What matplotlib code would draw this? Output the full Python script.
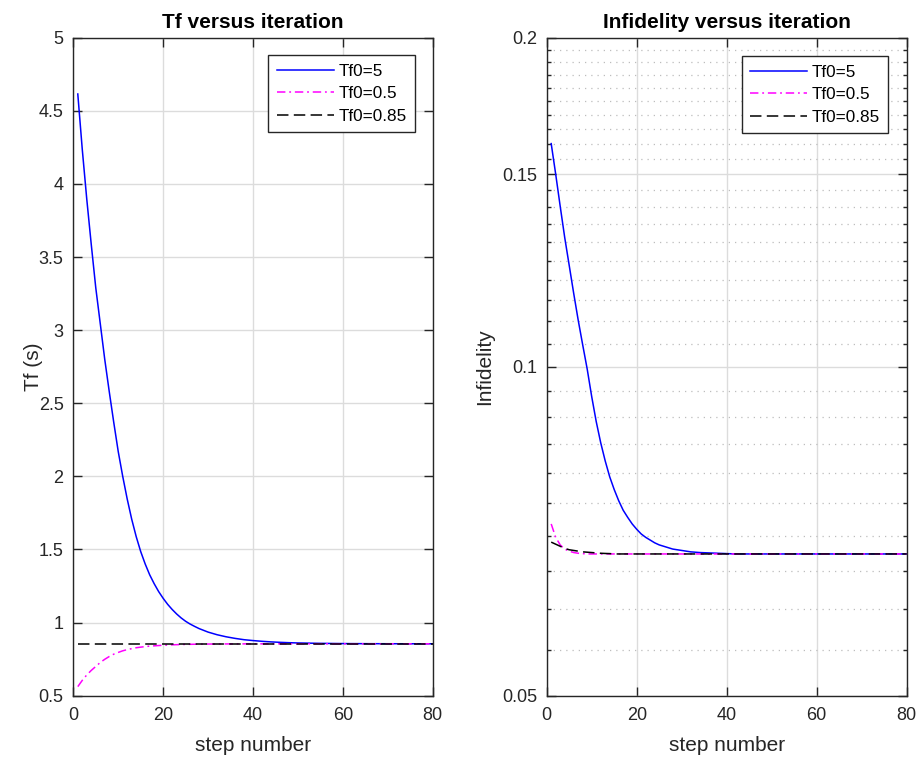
import matplotlib
matplotlib.use("Agg")
import matplotlib.pyplot as plt
from matplotlib.ticker import FixedLocator, FixedFormatter, NullFormatter

# ---------------- data ----------------
steps = [1, 2, 3, 4, 5, 6, 7, 8, 9, 10, 11, 12, 13, 14, 15, 16, 17, 18, 19, 20,
         21, 22, 23, 24, 25, 26, 27, 28, 29, 30, 32, 34, 36, 38, 40, 42, 44, 46,
         48, 50, 55, 60, 65, 70, 75, 80]

tf_5 = [4.615, 4.235, 3.895, 3.585, 3.29, 3.045, 2.80, 2.58, 2.37, 2.17,
        2.00, 1.845, 1.707, 1.588, 1.486, 1.401, 1.327, 1.266, 1.212, 1.166,
        1.125, 1.09, 1.059, 1.032, 1.009, 0.99, 0.974, 0.959, 0.947, 0.935,
        0.917, 0.903, 0.892, 0.883, 0.877, 0.872, 0.868, 0.865, 0.8625, 0.8607,
        0.858, 0.8565, 0.8558, 0.8554, 0.8551, 0.855]
tf_05 = [0.562, 0.605, 0.642, 0.673, 0.70, 0.727, 0.749, 0.768, 0.784, 0.796,
         0.807, 0.815, 0.822, 0.828, 0.832, 0.836, 0.839, 0.841, 0.843, 0.845,
         0.8465, 0.848, 0.849, 0.850, 0.851, 0.8515, 0.852, 0.8525, 0.853, 0.8532,
         0.8537, 0.854, 0.8543, 0.8545, 0.8547, 0.8548, 0.8549, 0.855, 0.855, 0.855,
         0.855, 0.855, 0.855, 0.855, 0.855, 0.855]
tf_085 = [0.855, 0.855, 0.855, 0.855, 0.855, 0.855, 0.855, 0.855, 0.855, 0.855,
          0.855, 0.855, 0.855, 0.855, 0.855, 0.855, 0.855, 0.855, 0.855, 0.855,
          0.855, 0.855, 0.855, 0.855, 0.855, 0.855, 0.855, 0.855, 0.855, 0.855,
          0.855, 0.855, 0.855, 0.855, 0.855, 0.855, 0.855, 0.855, 0.855, 0.855,
          0.855, 0.855, 0.855, 0.855, 0.855, 0.855]

inf_5 = [0.160, 0.150, 0.1402, 0.1313, 0.1238, 0.1167, 0.1103, 0.1047, 0.0995, 0.0939,
         0.0891, 0.0852, 0.0820, 0.0793, 0.0772, 0.0754, 0.0739, 0.0728, 0.0718, 0.0710,
         0.0703, 0.0698, 0.0694, 0.0690, 0.0687, 0.0685, 0.0683, 0.0681, 0.0680, 0.0679,
         0.0677, 0.0676, 0.06755, 0.0675, 0.06745, 0.0674, 0.0674, 0.0674, 0.0674, 0.0674,
         0.0674, 0.0674, 0.0674, 0.0674, 0.0674, 0.0674]
inf_05 = [0.0718, 0.0698, 0.0687, 0.0681, 0.0678, 0.0676, 0.0675, 0.06745, 0.0674, 0.0674,
          0.0674, 0.0674, 0.0674, 0.0674, 0.0674, 0.0674, 0.0674, 0.0674, 0.0674, 0.0674,
          0.0674, 0.0674, 0.0674, 0.0674, 0.0674, 0.0674, 0.0674, 0.0674, 0.0674, 0.0674,
          0.0674, 0.0674, 0.0674, 0.0674, 0.0674, 0.0674, 0.0674, 0.0674, 0.0674, 0.0674,
          0.0674, 0.0674, 0.0674, 0.0674, 0.0674, 0.0674]
inf_085 = [0.0691, 0.0688, 0.0685, 0.0682, 0.0680, 0.0679, 0.0678, 0.0677, 0.06765, 0.0676,
           0.06755, 0.0675, 0.06747, 0.06745, 0.0674, 0.0674, 0.0674, 0.0674, 0.0674, 0.0674,
           0.0674, 0.0674, 0.0674, 0.0674, 0.0674, 0.0674, 0.0674, 0.0674, 0.0674, 0.0674,
           0.0674, 0.0674, 0.0674, 0.0674, 0.0674, 0.0674, 0.0674, 0.0674, 0.0674, 0.0674,
           0.0674, 0.0674, 0.0674, 0.0674, 0.0674, 0.0674]

legend_labels = ["Tf0=5", "Tf0=0.5", "Tf0=0.85"]
x_ticks = [0, 20, 40, 60, 80]
tf_ticks = [0.5, 1, 1.5, 2, 2.5, 3, 3.5, 4, 4.5, 5]
tf_ticklabels = ["0.5", "1", "1.5", "2", "2.5", "3", "3.5", "4", "4.5", "5"]
inf_ticks = [0.05, 0.1, 0.15, 0.2]
inf_ticklabels = ["0.05", "0.1", "0.15", "0.2"]
inf_minor = [0.055, 0.06, 0.065, 0.07, 0.075, 0.08, 0.085, 0.09, 0.095,
             0.105, 0.11, 0.115, 0.12, 0.125, 0.13, 0.135, 0.14, 0.145,
             0.155, 0.16, 0.165, 0.17, 0.175, 0.18, 0.185, 0.19, 0.195]

# ---------------- style ----------------
plt.rcParams['font.family'] = ['Liberation Sans', 'DejaVu Sans']
AX_COL = '#262626'
GRID_COL = '#dcdcdc'

fig = plt.figure(figsize=(9.2, 7.6), dpi=100)
fig.patch.set_facecolor('white')

W, H = 920.0, 760.0
ax1 = fig.add_axes([73.3 / W, 1 - 695.7 / H, 359.4 / W, 658.0 / H])
ax2 = fig.add_axes([546.7 / W, 1 - 695.7 / H, 360.0 / W, 658.0 / H])

line_styles = [
    dict(color='#0000ff', linestyle='-', linewidth=1.1),
    dict(color='#ff00ff', linestyle=(0, (5.5, 2.5, 1.2, 2.5)), linewidth=1.1),
    dict(color='#000000', linestyle=(0, (7.5, 3.5)), linewidth=1.1),
]


def style_axes(ax):
    for sp in ax.spines.values():
        sp.set_color(AX_COL)
        sp.set_linewidth(1.0)
    ax.tick_params(axis='both', which='major', direction='in', length=6.5,
                   width=1.0, color=AX_COL, labelcolor=AX_COL, labelsize=13,
                   top=True, right=True)
    ax.tick_params(axis='y', which='major', pad=7)
    ax.tick_params(axis='x', which='major', pad=8)
    ax.set_axisbelow(True)


# Left plot
for ys, st, lab in zip([tf_5, tf_05, tf_085], line_styles, legend_labels):
    ax1.plot(steps, ys, label=lab, **st)
ax1.set_xlim(0, 80)
ax1.set_ylim(0.5, 5)
ax1.set_xticks(x_ticks)
ax1.set_yticks(tf_ticks)
ax1.set_yticklabels(tf_ticklabels)
ax1.grid(True, which='major', color=GRID_COL, linewidth=1.0)
style_axes(ax1)
ax1.set_title("Tf versus iteration", fontsize=15, fontweight='bold', pad=7,
              color='black')
ax1.set_xlabel("step number", fontsize=15, color=AX_COL, labelpad=9)
ax1.set_ylabel("Tf (s)", fontsize=15, color=AX_COL)
ax1.yaxis.set_label_coords((43 - 73.3) / 359.4, 0.5)

# Right plot
for ys, st, lab in zip([inf_5, inf_05, inf_085], line_styles, legend_labels):
    ax2.plot(steps, ys, label=lab, **st)
ax2.set_yscale('log')
ax2.set_xlim(0, 80)
ax2.set_ylim(0.05, 0.2)
ax2.set_xticks(x_ticks)
ax2.yaxis.set_major_locator(FixedLocator(inf_ticks))
ax2.yaxis.set_major_formatter(FixedFormatter(inf_ticklabels))
ax2.yaxis.set_minor_locator(FixedLocator(inf_minor))
ax2.yaxis.set_minor_formatter(NullFormatter())
ax2.grid(True, which='major', color=GRID_COL, linewidth=1.0)
ax2.grid(True, which='minor', axis='y', color='#bdbdbd', linewidth=0.9,
         linestyle=(0, (1, 4)))
style_axes(ax2)
ax2.tick_params(axis='y', which='minor', direction='in', length=3.2, width=1.0,
                color=AX_COL, left=True, right=True)
ax2.set_title("Infidelity versus iteration", fontsize=15, fontweight='bold',
              pad=7, color='black')
ax2.set_xlabel("step number", fontsize=15, color=AX_COL, labelpad=9)
ax2.set_ylabel("Infidelity", fontsize=15, color=AX_COL)
ax2.yaxis.set_label_coords((494 - 546.7) / 360.0, 0.5)

for ax, anchor in [(ax1, (1 - 17.7 / 359.4, 1 - 17.3 / 658.0)),
                   (ax2, (1 - 18.4 / 360.0, 1 - 18.3 / 658.0))]:
    leg = ax.legend(loc='upper right', bbox_to_anchor=anchor, borderaxespad=0,
                    fontsize=12.3, fancybox=False, framealpha=1.0,
                    edgecolor=AX_COL, handlelength=3.33, handletextpad=0.26,
                    labelspacing=0.44, borderpad=0.5)
    leg.get_frame().set_linewidth(1.0)
    for t in leg.get_texts():
        t.set_color('black')

fig.savefig("out.png", dpi=100, facecolor='white')
